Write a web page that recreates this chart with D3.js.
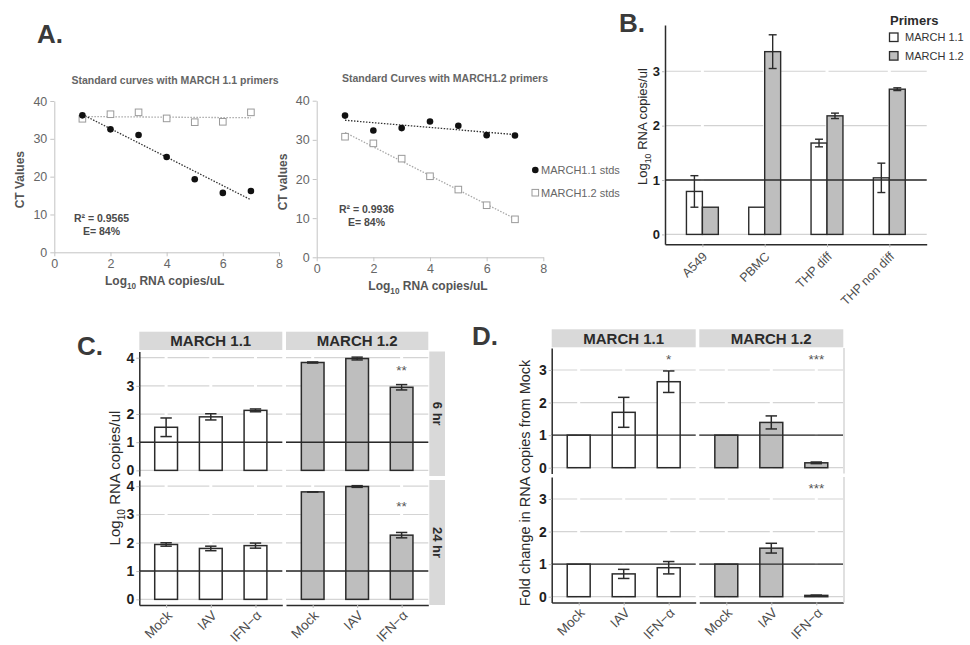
<!DOCTYPE html>
<html>
<head>
<meta charset="utf-8">
<script src="https://cdn.jsdelivr.net/npm/d3@7"></script>
<style>
  body { margin: 0; background: #fff; }
  svg { display: block; font-family: "Liberation Sans", Arial, sans-serif; }
</style>
</head>
<body>
<div id="wrapper"></div>
<script>
// ---- A: standard curves (CT vs log10 copies)
const stdLogCopies = [1, 2, 3, 4, 5, 6, 7];
const ctTicksX = [0, 2, 4, 6, 8];
const ctTicksY = [0, 10, 20, 30, 40];
const p11_std11 = [36.2, 32.5, 31.0, 25.2, 19.3, 15.7, 16.2];
const p11_std12 = [35.3, 36.5, 37.0, 35.4, 34.4, 34.5, 37.0];
const p12_std11 = [36.2, 32.4, 33.0, 34.7, 33.6, 31.2, 31.1];
const p12_std12 = [30.8, 29.1, 25.2, 20.7, 17.3, 13.3, 9.7];
const stdLegend = ["MARCH1.1 stds", "MARCH1.2 stds"];

// ---- B: cell types
const cellTypes = ["A549", "PBMC", "THP diff", "THP non diff"];
const primers = ["MARCH 1.1", "MARCH 1.2"];
const cell_m11 = [0.79, 0.50, 1.68, 1.04];
const cell_m11Err = [0.29, 0, 0.07, 0.27];
const cell_m12 = [0.50, 3.36, 2.18, 2.67];
const cell_m12Err = [0, 0.31, 0.05, 0.025];
const cellTicks = [0, 1, 2, 3];

// ---- C / D: treatments x timepoints
const treatments = ["Mock", "IAV", "IFN\u2212\u03b1"];
const timepoints = ["6 hr", "24 hr"];
const copiesTicks = [0, 1, 2, 3, 4];
const c6_m11 = [1.53, 1.90, 2.13];
const c6_m11Err = [0.33, 0.11, 0.05];
const c6_m12 = [3.83, 3.97, 2.95];
const c6_m12Err = [0.02, 0.05, 0.095];
const c24_m11 = [1.94, 1.80, 1.90];
const c24_m11Err = [0.06, 0.08, 0.09];
const c24_m12 = [3.80, 3.99, 2.27];
const c24_m12Err = [0.005, 0.03, 0.095];
const c6_m12Sig = ["", "", "**"];
const c24_m12Sig = ["", "", "**"];

const foldTicks = [0, 1, 2, 3];
const d6_m11 = [1, 1.70, 2.64];
const d6_m11Err = [0, 0.46, 0.33];
const d6_m12 = [1, 1.39, 0.15];
const d6_m12Err = [0, 0.20, 0.025];
const d24_m11 = [1, 0.70, 0.89];
const d24_m11Err = [0, 0.14, 0.19];
const d24_m12 = [1, 1.49, 0.04];
const d24_m12Err = [0, 0.15, 0.01];
const d6_m11Sig = ["", "", "*"];
const d6_m12Sig = ["", "", "***"];
const d24_m12Sig = ["", "", "***"];

const barFill = { "MARCH 1.1": "#ffffff", "MARCH 1.2": "#bebebe" };
const ink = "#2b2b2b";

const svg = d3.select("#wrapper").append("svg")
    .attr("width", 970)
    .attr("height", 645);

function logText(sel, size, rest) {
    sel.append("tspan").text("Log");
    sel.append("tspan").attr("dy", size * 0.3).style("font-size", (size * 0.68) + "px").text("10");
    sel.append("tspan").attr("dy", -size * 0.3).text("\u00a0" + rest);
}

function panelLetter(x, y, txt) {
    svg.append("text").attr("x", x).attr("y", y)
        .style("font-size", "26px").style("font-weight", "bold")
        .attr("fill", "#3a3a3a").text(txt);
}

function fitLine(xs, ys) {
    const mx = d3.mean(xs), my = d3.mean(ys);
    const b = d3.sum(xs, (v, i) => (v - mx) * (ys[i] - my)) / d3.sum(xs, v => (v - mx) ** 2);
    return v => my + b * (v - mx);
}

function drawStdCurve(cfg) {
    const x = d3.scaleLinear().domain([0, 8]).range([cfg.left, cfg.right]);
    const y = d3.scaleLinear().domain([0, 40]).range([cfg.bottom, cfg.top]);
    const g = svg.append("g");

    const xAxis = g.append("g")
        .attr("transform", `translate(0,${cfg.bottom})`)
        .call(d3.axisBottom(x).tickValues(ctTicksX).tickSize(4).tickSizeOuter(0).tickPadding(3));
    const yAxis = g.append("g")
        .attr("transform", `translate(${cfg.left},0)`)
        .call(d3.axisLeft(y).tickValues(ctTicksY).tickSize(4).tickSizeOuter(0).tickPadding(3));
    [xAxis, yAxis].forEach(a => {
        a.select(".domain").attr("stroke", "#c4c4c4");
        a.selectAll(".tick line").attr("stroke", "#c4c4c4");
        a.selectAll(".tick text").attr("fill", "#666").style("font-size", "12.5px")
            .style("font-family", "Liberation Sans, Arial, sans-serif");
    });

    g.append("text").attr("x", cfg.titleX).attr("y", cfg.titleY)
        .attr("text-anchor", "middle").attr("fill", "#666")
        .style("font-size", "10.5px").style("font-weight", "bold").text(cfg.title);

    const xt = g.append("text").attr("x", (cfg.left + cfg.right) / 2 - 2).attr("y", cfg.bottom + 33)
        .attr("text-anchor", "middle").attr("fill", "#555")
        .style("font-size", "12px").style("font-weight", "bold");
    logText(xt, 12, "RNA copies/uL");

    g.append("text")
        .attr("transform", `translate(${cfg.left - 30},${(cfg.top + cfg.bottom) / 2 + 3}) rotate(-90)`)
        .attr("text-anchor", "middle").attr("fill", "#555")
        .style("font-size", "12px").style("font-weight", "bold").text(cfg.yTitle);

    // trend lines
    const fitF = fitLine(stdLogCopies, cfg.filled);
    const fitO = fitLine(stdLogCopies, cfg.open);
    g.append("line")
        .attr("x1", x(1)).attr("x2", x(7)).attr("y1", y(fitO(1))).attr("y2", y(fitO(7)))
        .attr("stroke", "#a8a8a8").attr("stroke-width", 1.3).attr("stroke-dasharray", "1.5,1.5");
    g.append("line")
        .attr("x1", x(1)).attr("x2", x(7)).attr("y1", y(fitF(1))).attr("y2", y(fitF(7)))
        .attr("stroke", "#333").attr("stroke-width", 1.3).attr("stroke-dasharray", "1.5,1.5");

    g.selectAll(".open").data(cfg.open).join("rect").attr("class", "open")
        .attr("x", (d, i) => x(stdLogCopies[i]) - 3.3)
        .attr("y", d => y(d) - 3.3)
        .attr("width", 6.6).attr("height", 6.6)
        .attr("fill", "#fff").attr("stroke", "#9a9a9a").attr("stroke-width", 1);
    g.selectAll(".filled").data(cfg.filled).join("circle").attr("class", "filled")
        .attr("cx", (d, i) => x(stdLogCopies[i]))
        .attr("cy", d => y(d))
        .attr("r", 3.3).attr("fill", "#111");

    g.append("text").attr("x", cfg.statX).attr("y", cfg.statY)
        .attr("text-anchor", "middle").attr("fill", "#4a4a4a")
        .style("font-size", "10.5px").style("font-weight", "bold").text(cfg.r2);
    g.append("text").attr("x", cfg.statX).attr("y", cfg.statY + 12.5)
        .attr("text-anchor", "middle").attr("fill", "#4a4a4a")
        .style("font-size", "10.5px").style("font-weight", "bold").text("E= 84%");
}

function drawCellPanel() {
    const left = 665, right = 926.7, top = 25, bottom = 244.2;
    const x = d3.scalePoint().domain(cellTypes).range([left, right]).padding(0.6);
    const y = d3.scaleLinear().domain([-0.18, 3.85]).range([bottom, top]);
    const bw = x.step() * 0.256;
    const g = svg.append("g");

    g.selectAll(".grid").data(cellTicks).join("line").attr("class", "grid")
        .attr("x1", left).attr("x2", right)
        .attr("y1", d => y(d)).attr("y2", d => y(d))
        .attr("stroke", "#d2d2d2").attr("stroke-width", 1.2);
    g.selectAll(".vgrid").data(cellTypes).join("line").attr("class", "vgrid")
        .attr("x1", d => x(d)).attr("x2", d => x(d)).attr("y1", top).attr("y2", bottom - 1)
        .attr("stroke", "#fff").attr("stroke-width", 3);

    const rows = [];
    cellTypes.forEach((c, i) => {
        rows.push({ cat: c, primer: primers[0], v: cell_m11[i], e: cell_m11Err[i], off: -bw });
        rows.push({ cat: c, primer: primers[1], v: cell_m12[i], e: cell_m12Err[i], off: 0 });
    });

    g.selectAll(".bar").data(rows).join("rect").attr("class", "bar")
        .attr("x", d => x(d.cat) + d.off)
        .attr("y", d => y(d.v))
        .attr("width", bw)
        .attr("height", d => y(0) - y(d.v))
        .attr("fill", d => barFill[d.primer])
        .attr("stroke", ink).attr("stroke-width", 1.4);

    const eb = rows.filter(d => d.e > 0);
    const cap = bw * 0.5;
    const ebG = g.selectAll(".eb").data(eb).join("g").attr("class", "eb")
        .attr("stroke", ink).attr("stroke-width", 1.4);
    ebG.append("line")
        .attr("x1", d => x(d.cat) + d.off + bw / 2).attr("x2", d => x(d.cat) + d.off + bw / 2)
        .attr("y1", d => y(d.v + d.e)).attr("y2", d => y(d.v - d.e));
    ebG.append("line")
        .attr("x1", d => x(d.cat) + d.off + bw / 2 - cap / 2).attr("x2", d => x(d.cat) + d.off + bw / 2 + cap / 2)
        .attr("y1", d => y(d.v + d.e)).attr("y2", d => y(d.v + d.e));
    ebG.append("line")
        .attr("x1", d => x(d.cat) + d.off + bw / 2 - cap / 2).attr("x2", d => x(d.cat) + d.off + bw / 2 + cap / 2)
        .attr("y1", d => y(d.v - d.e)).attr("y2", d => y(d.v - d.e));

    g.append("line").attr("x1", left).attr("x2", right).attr("y1", y(1)).attr("y2", y(1))
        .attr("stroke", ink).attr("stroke-width", 1.4);

    const yAxis = g.append("g").attr("transform", `translate(${left},0)`)
        .call(d3.axisLeft(y).tickValues(cellTicks).tickFormat(d3.format("d")).tickSize(3).tickSizeOuter(0).tickPadding(2));
    const xAxis = g.append("g").attr("transform", `translate(0,${bottom})`)
        .call(d3.axisBottom(x).tickSize(3).tickSizeOuter(0));
    styleAxis(yAxis, xAxis, 13, 12.5);
    xAxis.selectAll(".tick text")
        .attr("x", 0).attr("y", 0).attr("dy", "0.35em")
        .attr("transform", "translate(2,10) rotate(-45)")
        .attr("text-anchor", "end");

    const yt = g.append("text")
        .attr("transform", `translate(${left - 18},${(top + bottom) / 2 - 8}) rotate(-90)`)
        .attr("text-anchor", "middle").attr("fill", ink).style("font-size", "13px");
    logText(yt, 13, "RNA copies/ul");

    // legend
    const lg = g.append("g").attr("transform", "translate(889,0)");
    lg.append("text").attr("x", 1).attr("y", 25).style("font-size", "13px")
        .style("font-weight", "bold").attr("fill", ink).text("Primers");
    primers.forEach((p, i) => {
        lg.append("rect").attr("x", 0.5).attr("y", 33 + i * 18.6).attr("width", 8.5).attr("height", 8.5)
            .attr("fill", barFill[p]).attr("stroke", ink).attr("stroke-width", 1.3);
        lg.append("text").attr("x", 16).attr("y", 41.3 + i * 18.6)
            .style("font-size", "11px").attr("fill", "#333").text(p);
    });
}

function styleAxis(yAxis, xAxis, ySize, xSize) {
    if (yAxis) {
        yAxis.select(".domain").attr("stroke", ink).attr("stroke-width", 1.5);
        yAxis.selectAll(".tick line").attr("stroke", "#bbb");
        yAxis.selectAll(".tick text").attr("fill", "#1e1e1e").style("font-weight", "bold")
            .style("font-size", ySize + "px").style("font-family", "Liberation Sans, Arial, sans-serif");
    }
    if (xAxis) {
        xAxis.select(".domain").attr("stroke", ink).attr("stroke-width", 1.5);
        xAxis.selectAll(".tick line").attr("stroke", "#bbb");
        xAxis.selectAll(".tick text").attr("fill", "#4d4d4d")
            .style("font-size", xSize + "px").style("font-family", "Liberation Sans, Arial, sans-serif");
    }
}

function drawFacet(p) {
    const x = d3.scalePoint().domain(treatments).range([p.x0, p.x1]).padding(0.6);
    const y = d3.scaleLinear().domain(p.domain).range([p.y1, p.y0]);
    const bw = x.step() * 0.51;
    const g = svg.append("g");

    g.selectAll(".grid").data(p.ticks).join("line").attr("class", "grid")
        .attr("x1", p.x0).attr("x2", p.x1)
        .attr("y1", d => y(d)).attr("y2", d => y(d))
        .attr("stroke", "#d4d4d4").attr("stroke-width", 1.2);
    g.selectAll(".vgrid").data(treatments).join("line").attr("class", "vgrid")
        .attr("x1", d => x(d)).attr("x2", d => x(d)).attr("y1", p.y0).attr("y2", p.y1)
        .attr("stroke", "#fff").attr("stroke-width", 3);

    const rows = treatments.map((t, i) => ({ t, v: p.means[i], e: p.errs[i], s: p.sig[i] }));
    g.selectAll(".bar").data(rows).join("rect").attr("class", "bar")
        .attr("x", d => x(d.t) - bw / 2)
        .attr("y", d => y(d.v))
        .attr("width", bw)
        .attr("height", d => y(0) - y(d.v))
        .attr("fill", p.fill).attr("stroke", ink).attr("stroke-width", 1.5);

    const cap = bw * 0.5;
    const ebG = g.selectAll(".eb").data(rows.filter(d => d.e > 0)).join("g").attr("class", "eb")
        .attr("stroke", ink).attr("stroke-width", 1.5);
    ebG.append("line")
        .attr("x1", d => x(d.t)).attr("x2", d => x(d.t))
        .attr("y1", d => y(d.v + d.e)).attr("y2", d => y(d.v - d.e));
    [1, -1].forEach(sgn => {
        ebG.append("line")
            .attr("x1", d => x(d.t) - cap / 2).attr("x2", d => x(d.t) + cap / 2)
            .attr("y1", d => y(d.v + sgn * d.e)).attr("y2", d => y(d.v + sgn * d.e));
    });

    g.append("line").attr("x1", p.x0).attr("x2", p.x1).attr("y1", y(1)).attr("y2", y(1))
        .attr("stroke", ink).attr("stroke-width", 1.4);

    g.selectAll(".sig").data(rows.filter(d => d.s)).join("text").attr("class", "sig")
        .attr("x", d => x(d.t)).attr("y", y(p.starY) + 7)
        .attr("text-anchor", "middle").attr("fill", "#555")
        .style("font-size", "13.5px").text(d => d.s);

    let yAxis = null, xAxis = null;
    if (p.showY) {
        yAxis = g.append("g").attr("transform", `translate(${p.x0},0)`)
            .call(d3.axisLeft(y).tickValues(p.ticks).tickFormat(d3.format("d")).tickSize(3).tickSizeOuter(0).tickPadding(2));
    }
    if (p.showX) {
        xAxis = g.append("g").attr("transform", `translate(0,${p.y1})`)
            .call(d3.axisBottom(x).tickSize(3).tickSizeOuter(0));
    }
    styleAxis(yAxis, xAxis, 14, 13.5);
    if (xAxis) {
        xAxis.selectAll(".tick text")
            .attr("x", 0).attr("y", 0).attr("dy", "0.35em")
            .attr("transform", "translate(3,8) rotate(-45)")
            .attr("text-anchor", "end");
    }
}

function strip(x0, y0, w, h, label, vertical) {
    svg.append("rect").attr("x", x0).attr("y", y0).attr("width", w).attr("height", h).attr("fill", "#d9d9d9");
    const t = svg.append("text").attr("text-anchor", "middle").attr("fill", ink)
        .style("font-weight", "bold").text(label);
    if (vertical) {
        t.attr("transform", `translate(${x0 + w / 2},${y0 + h / 2}) rotate(90)`)
            .attr("dy", "0.35em").style("font-size", "13px");
    } else {
        t.attr("x", x0 + w / 2).attr("y", y0 + h / 2).attr("dy", "0.36em").style("font-size", "15px");
    }
}

// ---------- Panel A
panelLetter(37, 43, "A.");
drawStdCurve({
    left: 54.3, right: 279, top: 101, bottom: 252.3,
    title: "Standard curves with MARCH 1.1 primers", titleX: 175, titleY: 84,
    yTitle: "CT Values", filled: p11_std11, open: p11_std12,
    r2: "R\u00b2 = 0.9565", statX: 101.5, statY: 222
});
drawStdCurve({
    left: 316.7, right: 543.3, top: 100.7, bottom: 257.3,
    title: "Standard Curves with MARCH1.2 primers", titleX: 445, titleY: 82,
    yTitle: "CT values", filled: p12_std11, open: p12_std12,
    r2: "R\u00b2 = 0.9936", statX: 366.5, statY: 213
});
// legend A
svg.append("circle").attr("cx", 535.3).attr("cy", 170).attr("r", 3.3).attr("fill", "#111");
svg.append("rect").attr("x", 532).attr("y", 189.4).attr("width", 6.6).attr("height", 6.6)
    .attr("fill", "#fff").attr("stroke", "#9a9a9a");
stdLegend.forEach((s, i) => {
    svg.append("text").attr("x", 541).attr("y", 174 + i * 22.7)
        .style("font-size", "11px").attr("fill", "#666").text(s);
});

// ---------- Panel B
panelLetter(619, 32, "B.");
drawCellPanel();

// ---------- Panel C
panelLetter(77, 355, "C.");
const cCols = [[139.3, 282.3], [286, 428.3]];
const cRows = [[351.5, 476], [480, 605]];
const cData = [
    [c6_m11, c6_m11Err, [], c6_m12, c6_m12Err, c6_m12Sig, 3.62],
    [c24_m11, c24_m11Err, [], c24_m12, c24_m12Err, c24_m12Sig, 3.36]
];
primers.forEach((pr, j) => strip(cCols[j][0], 331.7, cCols[j][1] - cCols[j][0], 18.3, pr, false));
timepoints.forEach((tp, i) => strip(429.3, cRows[i][0], 15.7, cRows[i][1] - cRows[i][0], tp, true));
cRows.forEach((r, i) => {
    cCols.forEach((c, j) => {
        const row = cData[i];
        drawFacet({
            x0: c[0], x1: c[1], y0: r[0], y1: r[1], domain: [-0.2, 4.22], ticks: copiesTicks,
            means: j === 0 ? row[0] : row[3], errs: j === 0 ? row[1] : row[4],
            sig: j === 0 ? ["", "", ""] : row[5], starY: row[6],
            fill: barFill[primers[j]], showY: j === 0, showX: i === 1
        });
    });
});
const cyt = svg.append("text")
    .attr("transform", "translate(120,478) rotate(-90)")
    .attr("text-anchor", "middle").attr("fill", ink).style("font-size", "15px");
logText(cyt, 15, "RNA copies/ul");

// ---------- Panel D
panelLetter(472, 345, "D.");
const dCols = [[551.7, 695.7], [699.3, 843.3]];
const dRows = [[348, 473.4], [477, 602.4]];
const dData = [
    [d6_m11, d6_m11Err, d6_m11Sig, d6_m12, d6_m12Err, d6_m12Sig],
    [d24_m11, d24_m11Err, ["", "", ""], d24_m12, d24_m12Err, d24_m12Sig]
];
primers.forEach((pr, j) => strip(dCols[j][0], 329.3, dCols[j][1] - dCols[j][0], 18, pr, false));
dRows.forEach((r, i) => {
    dCols.forEach((c, j) => {
        const row = dData[i];
        drawFacet({
            x0: c[0], x1: c[1], y0: r[0], y1: r[1], domain: [-0.175, 3.675], ticks: foldTicks,
            means: j === 0 ? row[0] : row[3], errs: j === 0 ? row[1] : row[4],
            sig: j === 0 ? row[2] : row[5], starY: 3.4,
            fill: barFill[primers[j]], showY: j === 0, showX: i === 1
        });
    });
    svg.append("line").attr("x1", 844).attr("x2", 844).attr("y1", r[0]).attr("y2", r[1])
        .attr("stroke", "#e0e0e0").attr("stroke-width", 2);
});
svg.append("text")
    .attr("transform", "translate(530,483) rotate(-90)")
    .attr("text-anchor", "middle").attr("fill", ink).style("font-size", "14.5px")
    .text("Fold change in RNA copies from Mock");
</script>
</body>
</html>
